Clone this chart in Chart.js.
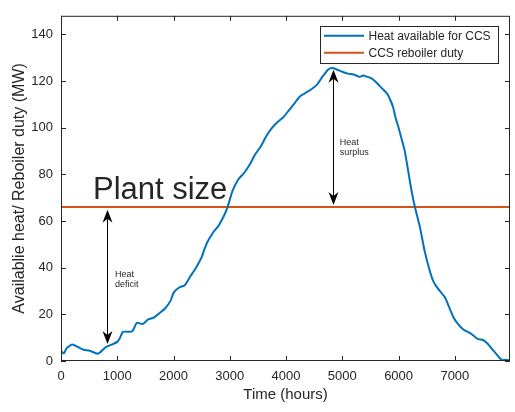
<!DOCTYPE html>
<html>
<head>
<meta charset="utf-8">
<script src="https://cdn.jsdelivr.net/npm/chart.js@4.4.0/dist/chart.umd.min.js"></script>
<style>
  html, body { margin: 0; padding: 0; background: #fff; }
  #wrap { width: 515px; height: 412px; }
</style>
</head>
<body>
<div id="wrap"><canvas id="heatChart" width="515" height="412"></canvas></div>
<script>
// Data (hours, MW)
const hours = [0, 50, 100, 200, 300, 400, 500, 600, 650, 700, 800, 900, 1000, 1050, 1100, 1200, 1270, 1350, 1450, 1550,
  1650, 1750, 1850, 1950, 2000, 2100, 2200, 2300, 2400, 2500, 2550, 2600, 2700, 2800, 2900, 2960, 3050, 3150, 3250, 3350,
  3450, 3550, 3650, 3750, 3850, 3950, 4050, 4150, 4250, 4350, 4450, 4550, 4650, 4750, 4820, 4900, 5000, 5100, 5200, 5310,
  5370, 5450, 5520, 5600, 5700, 5800, 5850, 5900, 5950, 6000, 6050, 6110, 6170, 6230, 6290, 6380, 6460, 6550, 6620, 6700,
  6820, 6900, 6970, 7050, 7150, 7250, 7300, 7400, 7500, 7580, 7650, 7720, 7800, 7850, 7900, 7980];
const heatAvailable = [4.4, 3.2, 5.5, 7.1, 6.0, 4.8, 4.5, 3.5, 3.1, 3.8, 6.0, 7.0, 8.2, 10, 12.5, 12.5, 12.8, 16.4, 15.8, 17.8,
  18.6, 20.5, 22.5, 26, 29.2, 31.5, 32.5, 36.3, 40, 44.5, 48, 50.9, 55, 58, 62.5, 66, 73, 77.8, 80.5, 84,
  88.5, 92, 96.5, 100, 102.5, 104.5, 107.5, 110.5, 113.5, 115, 116.5, 118.5, 122, 125, 125.6, 125, 124, 123.2, 122.8, 121.8,
  122.4, 121.8, 121.2, 119.5, 117, 114.5, 112, 109, 104, 100, 95.5, 90, 81.5, 73, 66, 57.3, 47.5, 39, 34, 31,
  27.4, 23, 19, 16, 13.5, 12.2, 11.5, 9.5, 9, 7.5, 5.4, 3.5, 1.2, 0.3, 0.5, 0.2];
const plantSize = 66;
const seriesLabels = ['Heat available for CCS', 'CCS reboiler duty'];
const xTicks = [0, 1000, 2000, 3000, 4000, 5000, 6000, 7000];
const yTicks = [0, 20, 40, 60, 80, 100, 120, 140];
const xMax = 7980;
const yMax = 148;

// Annotations (data units)
const plantLabel = { text: 'Plant size', x: 568, y: 69.5 };
const deficitArrow = { x: 822, from: 7.3, to: 64.9 };
const surplusArrow = { x: 4836, from: 66.9, to: 124.9 };
const deficitLabel = { lines: ['Heat', 'deficit'], x: 959, y: 37 };
const surplusLabel = { lines: ['Heat', 'surplus'], x: 4956, y: 93.7 };

const blue = '#0072BD';
const orange = '#D95319';
const axisColor = '#262626';
const fontFamily = "'Liberation Sans', Arial, sans-serif";

Chart.defaults.font.family = fontFamily;
Chart.defaults.color = axisColor;

function drawArrowHead(ctx, x, tipY, dir) {
  // dir = -1 points up, 1 points down
  const len = 13, half = 5, notch = 9;
  ctx.beginPath();
  ctx.moveTo(x, tipY);
  ctx.lineTo(x - half, tipY - dir * len);
  ctx.lineTo(x, tipY - dir * notch);
  ctx.lineTo(x + half, tipY - dir * len);
  ctx.closePath();
  ctx.fill();
}

function drawDoubleArrow(ctx, scales, arrow) {
  const px = Math.round(scales.x.getPixelForValue(arrow.x)) + 0.5;
  const yBottom = scales.y.getPixelForValue(arrow.from);
  const yTop = scales.y.getPixelForValue(arrow.to);
  ctx.strokeStyle = '#000';
  ctx.fillStyle = '#000';
  ctx.lineWidth = 1;
  ctx.beginPath();
  ctx.moveTo(px, yTop + 6);
  ctx.lineTo(px, yBottom - 6);
  ctx.stroke();
  drawArrowHead(ctx, px, yTop, -1);
  drawArrowHead(ctx, px, yBottom, 1);
}

const figurePlugin = {
  id: 'figureExtras',
  afterDraw(chart) {
    const { ctx, chartArea: a, scales } = chart;
    const { x, y } = scales;
    ctx.save();

    // box and inward ticks
    ctx.strokeStyle = axisColor;
    ctx.lineWidth = 1;
    ctx.strokeRect(a.left + 0.5, a.top + 0.5, a.right - a.left - 1, a.bottom - a.top - 1);
    ctx.beginPath();
    xTicks.forEach(v => {
      const px = Math.round(x.getPixelForValue(v)) + 0.5;
      ctx.moveTo(px, a.bottom); ctx.lineTo(px, a.bottom - 5);
      ctx.moveTo(px, a.top); ctx.lineTo(px, a.top + 5);
    });
    yTicks.forEach(v => {
      const py = Math.round(y.getPixelForValue(v)) + 0.5;
      ctx.moveTo(a.left, py); ctx.lineTo(a.left + 5, py);
      ctx.moveTo(a.right, py); ctx.lineTo(a.right - 5, py);
    });
    ctx.stroke();

    // arrows
    drawDoubleArrow(ctx, scales, deficitArrow);
    drawDoubleArrow(ctx, scales, surplusArrow);

    // texts
    ctx.fillStyle = axisColor;
    ctx.textBaseline = 'alphabetic';
    ctx.textAlign = 'left';
    ctx.font = '31px ' + fontFamily;
    ctx.fillText(plantLabel.text, x.getPixelForValue(plantLabel.x), y.getPixelForValue(plantLabel.y));

    ctx.font = '9px ' + fontFamily;
    ctx.textBaseline = 'middle';
    [deficitLabel, surplusLabel].forEach(lbl => {
      const lx = x.getPixelForValue(lbl.x);
      const ly = y.getPixelForValue(lbl.y);
      lbl.lines.forEach((t, i) => ctx.fillText(t, lx, ly + i * 10));
    });

    // legend
    const lw = 178, lh = 37;
    const lx = a.right - 12 - lw;
    const ly = a.top + 10.5;
    ctx.fillStyle = '#fff';
    ctx.fillRect(lx, ly, lw, lh);
    ctx.strokeStyle = axisColor;
    ctx.strokeRect(Math.round(lx) + 0.5, Math.round(ly) + 0.5, lw, lh);
    ctx.font = '12px ' + fontFamily;
    const colors = [blue, orange];
    seriesLabels.forEach((label, i) => {
      const rowY = ly + 9.5 + i * 17;
      ctx.strokeStyle = colors[i];
      ctx.lineWidth = 2;
      ctx.beginPath();
      ctx.moveTo(lx + 4, rowY);
      ctx.lineTo(lx + 44, rowY);
      ctx.stroke();
      ctx.fillStyle = axisColor;
      ctx.fillText(label, lx + 48.5, rowY + 0.5);
    });
    ctx.restore();
  }
};

const heatPoints = hours.map((h, i) => ({ x: h, y: heatAvailable[i] }));
const plantPoints = [{ x: 0, y: plantSize }, { x: xMax, y: plantSize }];

new Chart(document.getElementById('heatChart'), {
  type: 'line',
  data: {
    datasets: [
      { label: seriesLabels[0], data: heatPoints, borderColor: blue, borderWidth: 2, pointRadius: 0, tension: 0.2 },
      { label: seriesLabels[1], data: plantPoints, borderColor: orange, borderWidth: 2, pointRadius: 0, tension: 0 }
    ]
  },
  options: {
    responsive: false,
    animation: false,
    devicePixelRatio: 1,
    layout: { padding: { top: 15, right: 5, left: 0, bottom: 0 } },
    plugins: { legend: { display: false }, tooltip: { enabled: false } },
    scales: {
      x: {
        type: 'linear',
        min: 0,
        max: xMax,
        afterBuildTicks: s => { s.ticks = xTicks.map(v => ({ value: v })); },
        afterFit: s => { s.height = 51; },
        grid: { display: false, drawTicks: false },
        border: { display: false },
        ticks: { padding: 8, maxRotation: 0, autoSkip: false, color: axisColor, font: { size: 13 }, callback: v => String(v) },
        title: { display: true, text: 'Time (hours)', color: axisColor, font: { size: 15 }, padding: { top: 0, bottom: 8 } }
      },
      y: {
        type: 'linear',
        min: 0,
        max: yMax,
        afterBuildTicks: s => { s.ticks = yTicks.map(v => ({ value: v })); },
        afterFit: s => { s.width = 61; },
        grid: { display: false, drawTicks: false },
        border: { display: false },
        ticks: { padding: 8, color: axisColor, font: { size: 13 }, callback: v => String(v) },
        title: { display: true, text: 'Availablie heat/ Reboiler duty (MW)', color: axisColor, font: { size: 16 }, padding: { top: 10, bottom: 0 } }
      }
    }
  },
  plugins: [figurePlugin]
});
</script>
</body>
</html>
